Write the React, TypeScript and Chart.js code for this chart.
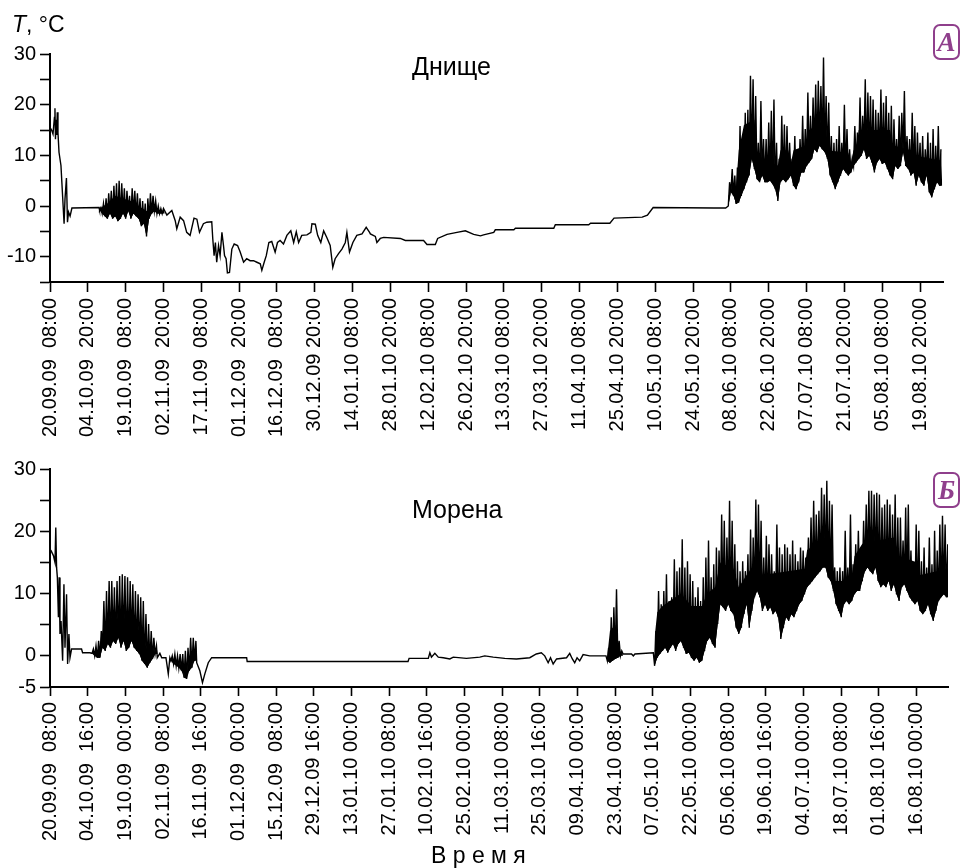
import React, { useEffect, useRef } from "react";
import { Chart, registerables } from "chart.js";

Chart.register(...registerables);

// ---------- Tick labels ----------
const A_xLabels = [
  "20.09.09  08:00", "04.10.09  20:00", "19.10.09  08:00", "02.11.09  20:00", "17.11.09  08:00",
  "01.12.09  20:00", "16.12.09  08:00", "30.12.09 20:00", "14.01.10 08:00", "28.01.10 20:00",
  "12.02.10 08:00", "26.02.10 20:00", "13.03.10 08:00", "27.03.10 20:00", "11.04.10 08:00",
  "25.04.10 20:00", "10.05.10 08:00", "24.05.10 20:00", "08.06.10 08:00", "22.06.10 20:00",
  "07.07.10 08:00", "21.07.10 20:00", "05.08.10 08:00", "19.08.10 20:00",
];
const A_xStepDays = 14.5;
const A_xMaxDays = 342.3;
const A_yTicks = [-15, -10, -5, 0, 5, 10, 15, 20, 25, 30];
const A_yLabeled = [-10, 0, 10, 20, 30];

const B_xLabels = [
  "20.09.09  08:00", "04.10.09  16:00", "19.10.09  00:00", "02.11.09  08:00", "16.11.09  16:00",
  "01.12.09  00:00", "15.12.09  08:00", "29.12.09 16:00", "13.01.10 00:00", "27.01.10 08:00",
  "10.02.10 16:00", "25.02.10 00:00", "11.03.10 08:00", "25.03.10 16:00", "09.04.10 00:00",
  "23.04.10 08:00", "07.05.10 16:00", "22.05.10 00:00", "05.06.10 08:00", "19.06.10 16:00",
  "04.07.10 00:00", "18.07.10 08:00", "01.08.10 16:00", "16.08.10 00:00",
];
const B_xStepDays = 14 + 1 / 3;
const B_xMaxDays = 341.6;
const B_yTicks = [-5, 0, 5, 10, 15, 20, 25, 30];
const B_yLabeled = [-5, 0, 10, 20, 30];

// ---------- Series A (Днище): days since 20.09.09 08:00, °C ----------
const A_traceDays = [
  0, 0.6, 1.15, 1.7, 1.9, 2.1, 2.3, 2.55, 2.8, 3.05, 3.45, 4.2, 5.4, 5.75, 6.3, 6.7, 7.1, 7.7, 8.4, 18.8,
  44.8, 46.7, 48.0, 48.6, 49.9, 51.2, 52.4, 53.7, 55.2, 56.3, 57.3, 58.8, 60.1, 62.0, 62.4, 62.9, 63.4, 63.9,
  64.6, 65.2, 65.9, 66.5, 66.9, 67.5, 68.0, 68.8, 69.7, 70.6, 71.9, 72.9, 74.2, 75.4, 76.7, 78.0, 79.3, 80.6,
  81.2, 82.1, 82.9, 83.9, 85.0, 86.3, 87.2, 88.2, 89.5, 90.8, 92.3, 93.4, 94.4, 95.3, 96.5, 98.5, 100.0,
  100.4, 101.7, 102.6, 103.8, 104.9, 106.1, 107.4, 108.4, 109.3, 110.6, 111.9, 113.2, 113.8, 114.8, 116.1,
  117.6, 119.6, 121.2, 122.5, 122.8, 124.7, 125.3, 126.6, 127.9, 134.3, 136.2, 143.2, 144.5, 147.7, 148.6,
  152.2, 156.0, 159.2, 162.4, 165.0, 166.2, 170.1, 170.7, 177.8, 178.4, 193.1, 193.7, 206.5, 207.2, 214.6,
  216.2, 227.0, 229.0, 231.2, 254.5, 259.0,
];
const A_traceTemps = [
  15.5, 15, 14.2, 17.5, 19.3, 13.2, 17, 14, 18.5, 14.5, 10.6, 8, -3.5, 1.4, 5.5, -3.2, -1.2, -2, -0.4, -0.3,
  -1.8, -0.9, -2.9, -4.5, -2.2, -2.9, -5.2, -5.8, -2.4, -2.6, -5.2, -3.5, -3.2, -3.1, -6.5, -9.8, -7.2, -11.1,
  -7.8, -9.8, -5.2, -7.8, -9.8, -10.4, -13.2, -13.1, -8.5, -7.5, -7.8, -9.1, -11.1, -10.4, -10.8, -10.8, -11.1, -11.4,
  -12.7, -11.1, -9.8, -7.2, -7.0, -9.1, -7.2, -6.8, -7.5, -5.8, -4.9, -7.2, -5.1, -7.2, -5.8, -5.7, -5.2,
  -3.5, -3.6, -5.8, -7.2, -4.9, -6.2, -7.8, -12.1, -10.4, -9.4, -8.5, -7.2, -5.2, -9.1, -7.2,
  -5.8, -5.5, -4.2, -5.2, -5.5, -6.0, -7.2, -6.4, -6.2, -6.4, -6.8, -6.8, -7.6, -7.6, -6.4,
  -5.6, -5.2, -4.9, -5.6, -5.9, -5.7, -5.2, -4.7, -4.7, -4.4, -4.4, -3.7, -3.7, -3.4, -3.4,
  -2.4, -2.2, -1.8, -0.3, -0.4, -0.4,
];
// daily max / min in the noisy stretches
const A_noise1Start = 19;
const A_noise1Hi = [-0.3, 0.5, 1.5, 2.5, 3, 4, 4.5, 5, 4.5, 3.5, 3, 2, 3.5, 3, 2.5, 1.5, 1, 0.5, 1.5, 2.5, 2, 1, 0, -0.5, -0.5];
const A_noise1Lo = [-0.8, -1.5, -2, -2.5, -1.5, -2.5, -2, -3, -2.5, -1.5, -2.5, -1, -2.5, -1.5, -2, -2.5, -4, -3.5, -6, -2.5, -1.5, -1, -1.5, -1.5, -1.5];
const A_body1Days = [19, 22, 25, 28, 31, 34, 37, 40, 43.5];
const A_body1Temps = [-0.5, 0.5, 2, 1.5, 1, 0, -1, -0.5, -1];
const A_noise2Start = 260;
const A_noise2Hi = [
  4.7, 7.3, 6, 7.6, 15.8, 11.2, 18.4, 19, 25.7, 25, 21.7, 12.5, 20.7, 13.2, 13.2, 16.5, 18.8, 21, 12.5, 9.3,
  17.8, 16.1, 15.8, 12.5, 9.3, 13.8, 11.2, 13.2, 17.8, 15.2, 22.4, 17.8, 21.4, 24, 24.7, 23.7, 29.3, 21.7, 20.4, 13.8,
  12.5, 13.2, 15.8, 12.5, 20, 15.2, 11.2, 9.3, 15.8, 14.5, 21.4, 17.8, 25, 22.4, 21.7, 21, 19, 18.4, 23, 20.4,
  21.7, 18.4, 19.8, 17.1, 13.2, 17.8, 18.4, 22.7, 13.8, 13.2, 18.4, 15.8, 14.5, 12.5, 13.8, 11.2, 14.5, 12.5, 15.2, 11.9,
  15.8, 11.2,
];
const A_noise2Lo = [
  0, 2.7, 2, 0.4, 0.7, 2, 3.3, 4.7, 6, 9.3, 7.3, 5.3, 4.7, 6, 4.7, 4.7, 5, 4.3, 3.3, 1,
  4.7, 5.3, 4.7, 5.3, 6, 4, 3.3, 4.7, 6.6, 6.6, 7.9, 8.6, 9.3, 11.2, 10.6, 11.9, 11.2, 10.6, 9.3, 6,
  4.7, 3.3, 4.7, 6, 7.3, 6.6, 6, 6.6, 7.9, 8.6, 9.3, 9.9, 11.2, 9.3, 9.9, 8.6, 6.6, 8.6, 9.3, 8.3,
  8.6, 7.3, 6, 5.3, 7.9, 7.3, 7.9, 10.6, 7.9, 7.3, 6, 6.6, 4, 6, 4.7, 4, 6, 2.7, 1.7, 3.3,
  4.7, 4,
];
// upper edge of the solid black body of the dense stretch
const A_body2Days = [260, 263, 264, 266, 270, 271, 279, 280, 283, 284, 285, 290, 291, 297, 298, 306, 307, 308, 309, 310, 322, 323, 330, 331, 341.5];
const A_body2Temps = [2, 4, 11, 16, 17, 10, 8, 11, 11, 8.5, 11, 12, 15, 17, 11, 10.5, 8.5, 11, 11, 15, 15, 12, 11, 10, 9];

// ---------- Series B (Морена) ----------
const B_traceDays = [
  0, 0.4, 1.3, 1.9, 2.2, 2.5, 2.8, 3.2, 3.5, 3.8, 4.2, 4.8, 5.3, 5.7, 6.3, 6.7, 7.2, 7.6, 8.2, 12.0, 12.4, 15.2,
  40.8, 41.8, 42.5, 44.1, 45.0, 45.6,
  55.8, 57.0, 58.0, 58.9, 60.2, 61.5, 74.8, 75.0, 136.2, 136.6, 143.9, 144.5, 145.1, 146.4, 147.7, 149.6,
  152.1, 153.4, 158.4, 163.5, 165.4, 168.6, 173.0, 177.4, 182.5, 185.0, 186.9, 188.2, 189.5, 190.4, 191.4,
  192.7, 196.5, 197.7, 198.7, 199.6, 200.5, 201.5, 202.8, 205.3, 210.4, 211.5,
  218.0, 221.2, 221.9, 222.5, 229.5,
];
const B_traceTemps = [
  17.1, 16.9, 16.1, 15.0, 20.6, 14.2, 12.6, 6.2, 12.6, 3.5, 5.6, -0.8, 11.5, 1.3, 9.9, -1.3, 3.5, -0.3, 1.1, 1.1, 0.5, 0.5,
  -0.3, 0.4, -0.3, -0.3, -2.9, -0.3,
  -1.1, -2.4, -4.3, -2.9, -1.1, -0.3, -0.3, -0.9, -0.9, -0.4, -0.4, 0.5, -0.2, 0.4, -0.2, -0.3,
  -0.5, -0.2, -0.4, -0.2, 0, -0.2, -0.4, -0.5, -0.3, 0.3, 0.5, 0, -1.1, -0.3, -1.3,
  -0.5, -0.3, 0.4, -0.5, -1.1, -0.3, -0.8, 0.2, 0, 0, 0,
  0.3, 0.3, 0, 0.3, 0.5,
];
const B_noise1Start = 16;
const B_noise1Hi = [1.1, 1.6, 2.4, 4, 8.8, 10.4, 12, 12, 11, 12, 12.8, 13.1, 12.8, 12.6, 12, 11.5, 10.4, 9.9, 9.4, 8.8, 6.7, 5.1, 4, 2.9, 1.6];
const B_noise1Lo = [0.4, 0, -0.3, -0.3, 1.3, 0.8, 1.9, 1.3, 2.4, 1.9, 2.9, 1.3, 2.4, 0.8, 1.3, 2.4, 1.3, 0.8, 0.3, -0.8, -1.3, -1.9, -1.1, -0.5, 0.3];
const B_body1Days = [16, 19, 20, 22, 30, 34, 37, 40.5];
const B_body1Temps = [0.5, 1, 4, 6, 6, 4, 1, 0.3];
const B_noise2Start = 46;
const B_noise2Hi = [0, 0.3, 0, 0.3, 0.3, 0.8, 1.3, 2.9, 2.9, 2.4];
const B_noise2Lo = [-0.8, -1.3, -1.6, -1.9, -2.4, -3.5, -3.7, -2.4, -1.9, -0.8];
const B_noise3Start = 212;
const B_noise3Hi = [1.3, 6.2, 7.8, 10.7, 2.4, 0.8];
const B_noise3Lo = [-0.8, -1.1, -0.8, -0.5, -0.3, 0];
const B_body3Days = [212, 213, 215, 216, 217.5];
const B_body3Temps = [0, 4, 5, 1, 0];
const B_noise4Start = 230;
const B_noise4Hi = [
  4, 10.4, 8.3, 10.4, 13.1, 8.8, 9.4, 15.5, 13.6, 14.2, 18.7, 14.2, 15.2, 13.1, 12, 9.4, 11, 8.8, 12.6, 15.8,
  18.5, 12.6, 14.7, 17.4, 16.9, 22.7, 21.7, 19, 24.9, 21.7, 17.9, 15.2, 13.6, 15.2, 13.6, 16.3, 20.3, 19, 25.1, 24.3,
  21.7, 15.8, 19.3, 17.9, 16.3, 13.6, 21.1, 17.4, 16.3, 17.9, 17.4, 16.3, 18.5, 16.3, 15.2, 17.4, 16.9, 15.8, 19, 22.2,
  24.9, 22.7, 23.3, 27, 25.9, 28.1, 24.9, 24.3, 14.2, 13.6, 14.2, 13.6, 20.1, 14.2, 22.7, 14.7, 17.9, 20.1, 16.9, 21.7,
  24.3, 26.5, 26.5, 25.9, 26.2, 25.9, 23.8, 24.3, 25.1, 24.3, 22.7, 25.9, 22.2, 22.2, 18.5, 23.8, 24.3, 16.9, 14.7, 21.1,
  20.1, 15.2, 17.4, 14.2, 19, 14.7, 20.1, 16.9, 21.1, 22.5, 21.1, 17.9,
];
const B_noise4Lo = [
  -1.6, -0.3, 0.3, 0.8, 1.3, 0.5, 1.3, 1.9, 0.8, 1.9, 2.4, 1.3, 0.3, 0.5, -0.3, -0.8, -0.3, -1.1, -0.8, 0.8,
  2.4, 2.9, 1.9, 1.3, 5.1, 8.3, 7.8, 7.2, 8.3, 7.2, 6.7, 4.5, 3.5, 4.5, 6.7, 8.3, 4.5, 7.2, 9.4, 10.4,
  9.4, 7.2, 8.3, 7.2, 7.8, 6.7, 7.2, 6.2, 2.7, 4.5, 6.2, 5.6, 6.7, 6.2, 7.2, 8.3, 8.8, 9.9, 11, 11.5,
  12, 12.6, 13.1, 13.6, 14.2, 14.2, 12.6, 12, 10.4, 8.3, 7.2, 6.2, 8.3, 8.8, 8.3, 8.8, 9.9, 10.4, 10.4, 12,
  13.6, 14.2, 13.6, 13.1, 14.2, 12, 11, 11.5, 11, 12, 10.4, 11.5, 9.9, 8.8, 11, 11.5, 10.4, 9.4, 8.8, 8.3,
  8.8, 7.2, 6.7, 7.2, 8.3, 6.7, 5.6, 7.2, 8.8, 9.4, 9.9, 9.4,
];
const B_body4Days = [230, 231, 233, 240, 244, 248, 250, 253, 255, 260, 262, 265, 270, 271, 287, 288, 295, 297, 298, 305, 306, 309, 321, 323, 330, 331, 341.5];
const B_body4Temps = [3, 7, 8, 10, 8, 8, 10, 11, 15, 14, 11, 13, 16, 13, 14, 17, 19, 18, 12, 12, 16, 18, 19, 16, 15, 13, 14];

// ---------- helpers ----------
type Pt = { x: number; y: number };
type Noise = { start: number; hi: number[]; lo: number[]; bodyDays?: number[]; bodyTemps?: number[] };

function zigzag(n: Noise): Pt[] {
  const pts: Pt[] = [];
  n.hi.forEach((h, i) => {
    pts.push({ x: n.start + i, y: n.lo[i] });
    pts.push({ x: n.start + i + 0.5, y: h });
  });
  pts.push({ x: n.start + n.hi.length, y: n.lo[n.lo.length - 1] });
  return pts;
}
function loLine(n: Noise): Pt[] {
  const pts: Pt[] = n.lo.map((l, i) => ({ x: n.start + i, y: l }));
  pts.push({ x: n.start + n.lo.length, y: n.lo[n.lo.length - 1] });
  return pts;
}

const HIDDEN = { borderWidth: 0, pointRadius: 0, borderColor: "rgba(0,0,0,0)", tension: 0 };

function buildDatasets(days: number[], temps: number[], noises: Noise[]): any[] {
  const pts: Pt[] = days.map((d, i) => ({ x: d, y: temps[i] }));
  for (const n of noises) {
    n.hi.forEach((h, i) => {
      pts.push({ x: n.start + i, y: n.lo[i] });
      pts.push({ x: n.start + i + 0.5, y: h });
    });
  }
  pts.sort((a, b) => a.x - b.x);
  const ds: any[] = [];
  for (const n of noises) {
    const base = ds.length;
    ds.push({ ...HIDDEN, data: loLine(n), fill: false });
    ds.push({ ...HIDDEN, data: zigzag(n), backgroundColor: "#000", fill: { target: base } });
    if (n.bodyDays && n.bodyTemps) {
      const bt = n.bodyTemps;
      ds.push({
        ...HIDDEN,
        data: n.bodyDays.map((d, i) => ({ x: d, y: bt[i] })),
        backgroundColor: "#000",
        fill: { target: base },
      });
    }
  }
  ds.push({ data: pts, borderColor: "#000", borderWidth: 1.4, pointRadius: 0, tension: 0, fill: false });
  return ds;
}

const FONT = "'Liberation Sans', Arial, sans-serif";

function makeConfig(
  datasets: any[],
  xLabels: string[],
  xStep: number,
  xMax: number,
  yTicks: number[],
  yLabeled: number[],
  pad: { top: number; right: number; bottom: number },
  xTickLen: number,
  xTickPad: number
): any {
  return {
    type: "line",
    data: { datasets },
    options: {
      responsive: false,
      animation: false,
      events: [],
      layout: { padding: { left: 0, top: pad.top, right: pad.right, bottom: pad.bottom } },
      plugins: { legend: { display: false }, tooltip: { enabled: false }, title: { display: false }, filler: { propagate: false } },
      scales: {
        x: {
          type: "linear",
          min: 0,
          max: xMax,
          grid: { display: true, drawOnChartArea: false, drawTicks: true, tickLength: xTickLen, tickWidth: 1.6, tickColor: "#000" },
          border: { display: true, color: "#000", width: 2 },
          ticks: {
            autoSkip: false,
            minRotation: 90,
            maxRotation: 90,
            padding: xTickPad,
            color: "#000",
            font: { family: FONT, size: 20 },
            callback: (_v: number, i: number) => xLabels[i] ?? "",
          },
          afterBuildTicks: (s: any) => {
            s.ticks = xLabels.map((_, i) => ({ value: i * xStep }));
          },
          afterFit: (s: any) => {
            s.height = 165;
            s.paddingLeft = 0;
            s.paddingRight = 0;
          },
        },
        y: {
          type: "linear",
          min: yTicks[0],
          max: yTicks[yTicks.length - 1],
          grid: { display: true, drawOnChartArea: false, drawTicks: true, tickLength: 10, tickWidth: 1.6, tickColor: "#000" },
          border: { display: true, color: "#000", width: 2 },
          ticks: {
            autoSkip: false,
            padding: 4,
            color: "#000",
            font: { family: FONT, size: 20 },
            callback: (v: number) => (yLabeled.includes(v) ? String(v) : ""),
          },
          afterBuildTicks: (s: any) => {
            s.ticks = yTicks.map((v) => ({ value: v }));
          },
          afterFit: (s: any) => {
            s.width = 50;
            s.paddingTop = 0;
            s.paddingBottom = 0;
          },
        },
      },
    },
  };
}

function ChartCanvas({ config, width, height, top }: { config: any; width: number; height: number; top: number }) {
  const ref = useRef<HTMLCanvasElement | null>(null);
  useEffect(() => {
    if (!ref.current) return;
    const chart = new Chart(ref.current, config);
    return () => chart.destroy();
  }, [config]);
  return (
    <canvas
      ref={ref}
      width={width}
      height={height}
      style={{ position: "absolute", left: 0, top, width, height }}
    />
  );
}

const PURPLE = "#8f3f8c";

function Badge({ letter, top }: { letter: string; top: number }) {
  return (
    <div
      style={{
        position: "absolute",
        left: 933,
        top,
        width: 27,
        height: 36,
        boxSizing: "border-box",
        border: `2px solid ${PURPLE}`,
        borderRadius: 7,
        color: PURPLE,
        fontFamily: "'Liberation Serif', 'DejaVu Serif', serif",
        fontStyle: "italic",
        fontWeight: "bold",
        fontSize: 27,
        lineHeight: "32px",
        textAlign: "center",
      }}
    >
      {letter}
    </div>
  );
}

const datasetsA = buildDatasets(A_traceDays, A_traceTemps, [
  { start: A_noise1Start, hi: A_noise1Hi, lo: A_noise1Lo, bodyDays: A_body1Days, bodyTemps: A_body1Temps },
  { start: A_noise2Start, hi: A_noise2Hi, lo: A_noise2Lo, bodyDays: A_body2Days, bodyTemps: A_body2Temps },
]);
const datasetsB = buildDatasets(B_traceDays, B_traceTemps, [
  { start: B_noise1Start, hi: B_noise1Hi, lo: B_noise1Lo, bodyDays: B_body1Days, bodyTemps: B_body1Temps },
  { start: B_noise2Start, hi: B_noise2Hi, lo: B_noise2Lo },
  { start: B_noise3Start, hi: B_noise3Hi, lo: B_noise3Lo, bodyDays: B_body3Days, bodyTemps: B_body3Temps },
  { start: B_noise4Start, hi: B_noise4Hi, lo: B_noise4Lo, bodyDays: B_body4Days, bodyTemps: B_body4Temps },
]);

const configA = makeConfig(datasetsA, A_xLabels, A_xStepDays, A_xMaxDays, A_yTicks, A_yLabeled, { top: 54, right: 18, bottom: 3 }, 10, 6);
const configB = makeConfig(datasetsB, B_xLabels, B_xStepDays, B_xMaxDays, B_yTicks, B_yLabeled, { top: 19, right: 13, bottom: 16 }, 9, 6);

export default function App() {
  const txt = (s: React.CSSProperties): React.CSSProperties => ({
    position: "absolute",
    fontFamily: FONT,
    color: "#000",
    lineHeight: 1,
    whiteSpace: "pre",
    ...s,
  });
  return (
    <div style={{ position: "absolute", left: 0, top: 0, width: 961, height: 868, background: "#fff", overflow: "hidden" }}>
      <ChartCanvas config={configA} width={961} height={450} top={0} />
      <ChartCanvas config={configB} width={961} height={418} top={450} />
      <div style={txt({ left: 12, top: 13, fontSize: 23 })}>
        <i>T</i>, °C
      </div>
      <div style={txt({ left: 412, top: 54, fontSize: 25 })}>Днище</div>
      <div style={txt({ left: 412, top: 497, fontSize: 25 })}>Морена</div>
      <div style={txt({ left: 431, top: 844, fontSize: 23 })}>В р е м я</div>
      <Badge letter="A" top={24} />
      <Badge letter="Б" top={472} />
    </div>
  );
}
